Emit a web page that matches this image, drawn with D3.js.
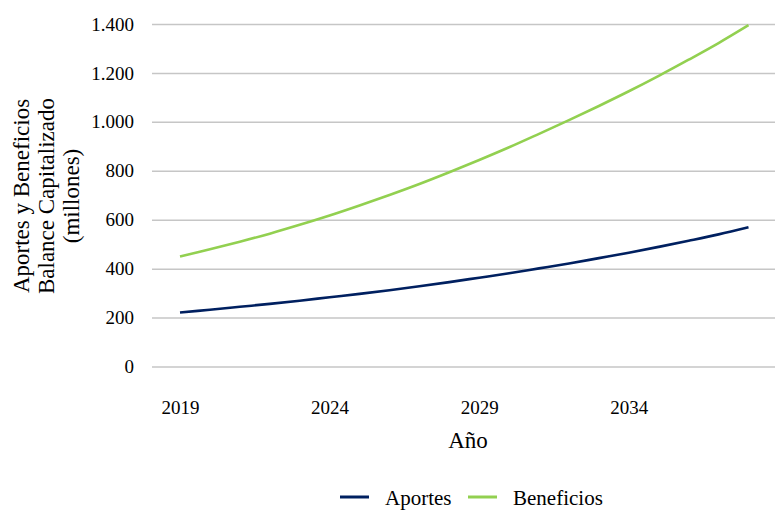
<!DOCTYPE html>
<html>
<head>
<meta charset="utf-8">
<script src="https://cdn.jsdelivr.net/npm/d3@7"></script>
<style>
  html, body { margin: 0; padding: 0; background: #fff; }
  svg { display: block; font-family: "Liberation Serif", "Times New Roman", serif; }
</style>
</head>
<body>
<svg id="chart" width="775" height="512"></svg>
<script>
// Projection years and series (millions)
const years = [2019, 2020, 2021, 2022, 2023, 2024, 2025, 2026, 2027, 2028,
               2029, 2030, 2031, 2032, 2033, 2034, 2035, 2036, 2037, 2038];
const aportes = [221, 232, 244, 256, 269, 283, 297, 312, 328, 345,
                 363, 381, 401, 421, 443, 465, 489, 514, 540, 569];
const beneficios = [450, 479, 510, 543, 579, 617, 658, 701, 746, 794,
                    844, 896, 951, 1007, 1065, 1125, 1188, 1254, 1322, 1395];
const xTickYears = [2019, 2024, 2029, 2034];
const yTicks = [0, 200, 400, 600, 800, 1000, 1200, 1400];
const seriesNames = ["Aportes", "Beneficios"];
const seriesColors = ["#002060", "#92d050"];

const svg = d3.select("#chart");

const gridLeft = 152, gridRight = 775;
const x = d3.scaleLinear().domain([2019, 2038]).range([180, 748.5]);
const y = d3.scaleLinear().domain([0, 1400]).range([366.5, 24]);

const esLocale = d3.formatLocale({ decimal: ",", thousands: ".", grouping: [3], currency: ["$", ""] });
const fmt = esLocale.format(",d");

// Y axis with horizontal gridlines
const yAxis = svg.append("g")
  .attr("transform", `translate(${gridLeft},0)`)
  .call(d3.axisLeft(y).tickValues(yTicks).tickFormat(fmt)
    .tickSize(-(gridRight - gridLeft)).tickPadding(18));
yAxis.select(".domain").remove();
yAxis.selectAll(".tick line").attr("stroke", "#c6c6c6").attr("stroke-width", 1.5);
yAxis.selectAll(".tick text")
  .attr("fill", "#000").attr("font-size", 19)
  .attr("font-family", "Liberation Serif, serif");

// X axis labels
const xAxis = svg.append("g")
  .attr("transform", "translate(0,396)")
  .call(d3.axisBottom(x).tickValues(xTickYears).tickFormat(d3.format("d"))
    .tickSize(0).tickPadding(0));
xAxis.select(".domain").remove();
xAxis.selectAll(".tick text")
  .attr("fill", "#000").attr("font-size", 19)
  .attr("font-family", "Liberation Serif, serif")
  .attr("dy", "0.95em");

// Series lines (smoothed)
const line = d3.line().curve(d3.curveCatmullRom.alpha(0.5));
[aportes, beneficios].forEach((vals, i) => {
  svg.append("path")
    .attr("d", line(years.map((yr, j) => [x(yr), y(vals[j])])))
    .attr("fill", "none")
    .attr("stroke", seriesColors[i])
    .attr("stroke-width", 2.6)
    .attr("stroke-linecap", "butt");
});

// Axis titles
svg.append("text")
  .attr("x", 468).attr("y", 448)
  .attr("text-anchor", "middle")
  .attr("font-size", 23).attr("fill", "#000")
  .text("Año");

const yTitle = svg.append("text")
  .attr("transform", "translate(29,196) rotate(-90)")
  .attr("text-anchor", "middle")
  .attr("font-size", 23).attr("fill", "#000");
["Aportes y Beneficios", "Balance Capitalizado", "(millones)"].forEach((t, i) => {
  yTitle.append("tspan").attr("x", 0).attr("dy", i === 0 ? 0 : 25).text(t);
});

// Legend
const legendItems = [
  { name: seriesNames[0], color: seriesColors[0], x1: 340, x2: 369, tx: 385 },
  { name: seriesNames[1], color: seriesColors[1], x1: 468, x2: 497, tx: 513 }
];
const legend = svg.append("g");
legendItems.forEach(d => {
  legend.append("line")
    .attr("x1", d.x1).attr("x2", d.x2).attr("y1", 497).attr("y2", 497)
    .attr("stroke", d.color).attr("stroke-width", 3);
  legend.append("text")
    .attr("x", d.tx).attr("y", 505)
    .attr("font-size", 21).attr("fill", "#000")
    .text(d.name);
});
</script>
</body>
</html>
